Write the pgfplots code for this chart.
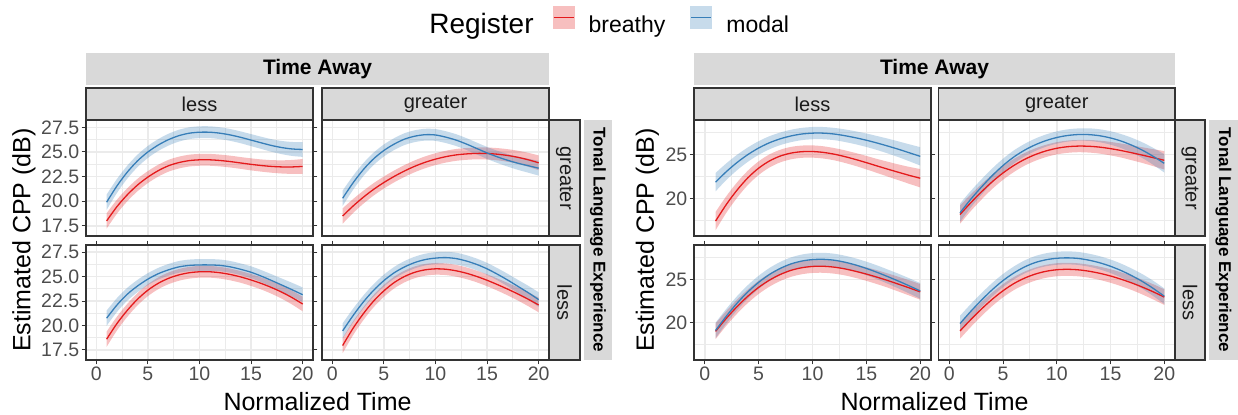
\documentclass[border=0pt]{standalone}
\usepackage{pgfplots}
\pgfplotsset{compat=1.18}
\usepackage{pgfplotstable}
\usepgfplotslibrary{fillbetween}
\usepackage{fontspec}
\setmainfont{Liberation Sans}
\definecolor{set1red}{HTML}{E41A1C}
\definecolor{set1blue}{HTML}{377EB8}
\definecolor{grey92}{HTML}{EBEBEB}
\definecolor{grey85}{HTML}{D9D9D9}
\definecolor{grey20}{HTML}{333333}
\definecolor{grey30}{HTML}{4D4D4D}
\definecolor{grey10}{HTML}{1A1A1A}

% columns: x, breathy (r), modal (b), ribbon half-width (e)
\pgfplotstableread{
x r b e
1 18.0 19.9 0.78
2 19.45 21.55 0.71
3 20.65 22.95 0.66
4 21.65 24.1 0.63
5 22.45 25.0 0.61
6 23.1 25.7 0.60
7 23.6 26.25 0.60
8 23.92 26.65 0.60
9 24.12 26.9 0.60
10 24.2 27.0 0.60
11 24.2 27.0 0.60
12 24.13 26.9 0.60
13 24.02 26.72 0.60
14 23.88 26.48 0.60
15 23.74 26.2 0.61
16 23.62 25.92 0.62
17 23.53 25.65 0.64
18 23.48 25.44 0.67
19 23.48 25.3 0.71
20 23.53 25.25 0.75
}\LTa
\pgfplotstableread{
x r b e
1 18.5 20.3 0.78
2 19.5 21.85 0.71
3 20.4 23.2 0.66
4 21.2 24.3 0.63
5 21.9 25.15 0.61
6 22.52 25.8 0.60
7 23.07 26.3 0.60
8 23.55 26.6 0.60
9 23.95 26.75 0.60
10 24.27 26.72 0.60
11 24.52 26.5 0.60
12 24.7 26.2 0.60
13 24.8 25.8 0.60
14 24.85 25.35 0.60
15 24.84 24.9 0.61
16 24.77 24.5 0.62
17 24.64 24.15 0.64
18 24.45 23.85 0.67
19 24.2 23.6 0.71
20 23.9 23.35 0.75
}\LTb
\pgfplotstableread{
x r b e
1 18.6 20.75 0.78
2 20.2 22.1 0.71
3 21.55 23.2 0.66
4 22.7 24.05 0.63
5 23.62 24.75 0.61
6 24.32 25.3 0.60
7 24.83 25.7 0.60
8 25.18 26.0 0.60
9 25.4 26.15 0.60
10 25.5 26.2 0.60
11 25.5 26.2 0.60
12 25.4 26.15 0.60
13 25.22 26.0 0.60
14 24.97 25.75 0.60
15 24.66 25.45 0.61
16 24.3 25.05 0.62
17 23.88 24.6 0.64
18 23.4 24.13 0.67
19 22.84 23.65 0.71
20 22.2 23.15 0.75
}\LBa
\pgfplotstableread{
x r b e
1 17.95 19.45 0.78
2 19.7 21.0 0.71
3 21.2 22.4 0.66
4 22.5 23.6 0.63
5 23.55 24.6 0.61
6 24.4 25.4 0.60
7 25.02 26.0 0.60
8 25.45 26.45 0.60
9 25.7 26.75 0.60
10 25.8 26.9 0.60
11 25.76 26.95 0.60
12 25.6 26.85 0.60
13 25.35 26.6 0.60
14 25.02 26.25 0.60
15 24.63 25.8 0.61
16 24.19 25.25 0.62
17 23.72 24.65 0.64
18 23.22 24.0 0.67
19 22.68 23.35 0.71
20 22.1 22.65 0.75
}\LBb
\pgfplotstableread{
x r b e
1 17.4 21.85 1.05
2 19.3 23.05 0.95
3 20.95 24.1 0.88
4 22.35 25.0 0.82
5 23.45 25.75 0.78
6 24.27 26.35 0.75
7 24.83 26.8 0.72
8 25.17 27.13 0.71
9 25.33 27.35 0.70
10 25.35 27.45 0.70
11 25.25 27.45 0.70
12 25.05 27.35 0.70
13 24.77 27.16 0.72
14 24.44 26.92 0.74
15 24.08 26.64 0.77
16 23.7 26.32 0.80
17 23.33 25.97 0.85
18 22.97 25.6 0.90
19 22.62 25.2 0.97
20 22.3 24.8 1.05
}\RTa
\pgfplotstableread{
x r b e
1 18.15 18.35 1.05
2 19.5 19.9 0.95
3 20.75 21.3 0.88
4 21.9 22.6 0.82
5 22.9 23.75 0.78
6 23.75 24.72 0.75
7 24.45 25.5 0.72
8 25.0 26.12 0.71
9 25.42 26.6 0.70
10 25.72 26.95 0.70
11 25.9 27.18 0.70
12 25.97 27.29 0.70
13 25.95 27.28 0.72
14 25.85 27.15 0.74
15 25.68 26.9 0.77
16 25.46 26.54 0.80
17 25.2 26.06 0.85
18 24.93 25.48 0.90
19 24.64 24.78 0.97
20 24.35 24.0 1.05
}\RTb
\pgfplotstableread{
x r b e
1 19.0 19.1 0.90
2 20.5 20.75 0.85
3 21.85 22.25 0.81
4 23.05 23.55 0.78
5 24.07 24.65 0.76
6 24.9 25.55 0.75
7 25.55 26.25 0.75
8 26.03 26.77 0.75
9 26.33 27.1 0.75
10 26.48 27.27 0.75
11 26.5 27.3 0.75
12 26.4 27.2 0.75
13 26.2 26.97 0.75
14 25.92 26.65 0.76
15 25.6 26.25 0.78
16 25.24 25.8 0.80
17 24.85 25.3 0.82
18 24.43 24.78 0.85
19 24.0 24.23 0.88
20 23.55 23.66 0.90
}\RBa
\pgfplotstableread{
x r b e
1 19.05 19.9 0.90
2 20.35 21.3 0.85
3 21.58 22.6 0.81
4 22.7 23.8 0.78
5 23.68 24.85 0.76
6 24.5 25.72 0.75
7 25.13 26.42 0.75
8 25.6 26.93 0.75
9 25.92 27.25 0.75
10 26.1 27.42 0.75
11 26.15 27.47 0.75
12 26.09 27.4 0.75
13 25.93 27.2 0.75
14 25.69 26.9 0.76
15 25.38 26.5 0.78
16 25.0 26.0 0.80
17 24.57 25.4 0.82
18 24.08 24.72 0.85
19 23.54 23.93 0.88
20 22.95 23.05 0.90
}\RBb

\pgfplotsset{
  panel/.style={
    scale only axis, anchor=north west,
    xmin=-1, xmax=21,
    axis line style={draw=grey20, line width=0.55pt},
    grid=both,
    major grid style={draw=grey92, line width=0.75pt},
    minor grid style={draw=grey92, line width=0.4pt},
    xtick={0,5,10,15,20}, minor xtick={2.5,7.5,12.5,17.5},
    tick align=outside, major tick length=2.2pt, minor tick length=0pt,
    tick style={draw=grey20, line width=0.5pt},
    xticklabels={}, yticklabels={},
    ticklabel style={font=\fontsize{9.75}{11}\selectfont, text=grey30},
    yticklabel style={inner xsep=1pt},
    xticklabel style={inner ysep=1.2pt},
  },
  lgrid/.style={ymin=16.47, ymax=28.24, ytick={17.5,20,22.5,25,27.5},
    minor ytick={18.75,21.25,23.75,26.25}},
  rgrid/.style={ymin=15.7, ymax=28.95, ytick={20,25},
    minor ytick={17.5,22.5,27.5}},
  noxt/.style={xtick style={draw=none}},
  noyt/.style={ytick style={draw=none}},
  xlab/.style={xticklabels={0,5,10,15,20}},
  lylab/.style={yticklabels={17.5,20.0,22.5,25.0,27.5}},
  rylab/.style={yticklabels={20,25}},
}

\newcommand{\panel}[6]{%
\begin{axis}[panel, at={#1}, width=#2, height=#3, #5]
#6
\addplot[name path=rU, draw=none, smooth, forget plot] table[x=x, y expr=\thisrow{r}+\thisrow{e}] {#4};
\addplot[name path=rL, draw=none, smooth, forget plot] table[x=x, y expr=\thisrow{r}-\thisrow{e}] {#4};
\addplot[fill=set1red, fill opacity=0.28, draw=none, forget plot] fill between[of=rU and rL];
\addplot[name path=bU, draw=none, smooth, forget plot] table[x=x, y expr=\thisrow{b}+\thisrow{e}] {#4};
\addplot[name path=bL, draw=none, smooth, forget plot] table[x=x, y expr=\thisrow{b}-\thisrow{e}] {#4};
\addplot[fill=set1blue, fill opacity=0.28, draw=none, forget plot] fill between[of=bU and bL];
\addplot[smooth, set1red, line width=0.65pt, forget plot] table[x=x, y=r] {#4};
\addplot[smooth, set1blue, line width=0.65pt, forget plot] table[x=x, y=b] {#4};
\end{axis}}

\begin{document}
\begin{tikzpicture}
% ---- strips ----
\tikzset{strip/.style={fill=grey85, draw=grey20, line width=0.55pt},
         striptxt/.style={font=\fontsize{10}{12}\selectfont, text=grey10}}
% left block
\fill[grey85] (43pt,-26.5pt) rectangle (274.5pt,-42.5pt);
\node[font=\fontsize{10.5}{12}\selectfont\bfseries] at (158.75pt,-34.5pt) {Time Away};
\filldraw[strip] (43pt,-44pt) rectangle (156.5pt,-60pt);
\node[striptxt] at (99.75pt,-52pt) {less};
\filldraw[strip] (161pt,-44pt) rectangle (274.5pt,-60pt);
\node[striptxt] at (217.75pt,-52pt) {greater};
\filldraw[strip] (274.5pt,-60pt) rectangle (290pt,-118pt);
\node[striptxt, rotate=-90] at (282.25pt,-89pt) {greater};
\filldraw[strip] (274.5pt,-122.5pt) rectangle (290pt,-180pt);
\node[striptxt, rotate=-90] at (282.25pt,-151.25pt) {less};
\fill[grey85] (292pt,-60pt) rectangle (306pt,-180pt);
\node[rotate=-90, font=\fontsize{8.5}{10}\selectfont\bfseries] at (299pt,-120pt) {Tonal Language Experience};
% right block
\fill[grey85] (347pt,-26.5pt) rectangle (587.5pt,-42.5pt);
\node[font=\fontsize{10.5}{12}\selectfont\bfseries] at (467.25pt,-34.5pt) {Time Away};
\filldraw[strip] (347pt,-44pt) rectangle (465.5pt,-60pt);
\node[striptxt] at (406.25pt,-52pt) {less};
\filldraw[strip] (469.25pt,-44pt) rectangle (587.5pt,-60pt);
\node[striptxt] at (528.4pt,-52pt) {greater};
\filldraw[strip] (587.5pt,-60pt) rectangle (602.5pt,-118pt);
\node[striptxt, rotate=-90] at (595pt,-89pt) {greater};
\filldraw[strip] (587.5pt,-122.5pt) rectangle (602.5pt,-180pt);
\node[striptxt, rotate=-90] at (595pt,-151.25pt) {less};
\fill[grey85] (604.5pt,-60pt) rectangle (619pt,-180pt);
\node[rotate=-90, font=\fontsize{8.5}{10}\selectfont\bfseries] at (611.75pt,-120pt) {Tonal Language Experience};

% ---- axis titles ----
\node[rotate=90, font=\fontsize{12.5}{14}\selectfont] at (12pt,-120pt) {Estimated CPP (dB)};
\node[rotate=90, font=\fontsize{12.5}{14}\selectfont] at (323.75pt,-120pt) {Estimated CPP (dB)};
\node[anchor=base, font=\fontsize{12.5}{14}\selectfont] at (158.75pt,-205pt) {Normalized Time};
\node[anchor=base, font=\fontsize{12.5}{14}\selectfont] at (467.25pt,-205pt) {Normalized Time};

% ---- panels ----
\panel{(43pt,-60pt)}{113.5pt}{58pt}{\LTa}{lgrid, noxt, lylab,
  legend style={at={(1.511,1.849)}, anchor=west, draw=none, fill=none,
    legend columns=-1, font=\fontsize{11.5}{13}\selectfont, inner sep=0pt,
    nodes={inner sep=0pt},
    /tikz/column 2/.style={column sep=9.5pt},
    /tikz/column 3/.style={column sep=7pt},
    /tikz/column 4/.style={column sep=12.5pt},
    /tikz/column 5/.style={column sep=7pt}}}{%
  \addlegendimage{empty legend}
  \addlegendentry{\fontsize{14}{16}\selectfont Register}
  \addlegendimage{legend image code/.code={%
    \path[fill=set1red!28, draw=none] (0pt,-1.75pt) rectangle (11pt,9.5pt);
    \path[draw=set1red, line width=0.65pt] (0.5pt,3.9pt) -- (10.5pt,3.9pt);}}
  \addlegendentry{breathy}
  \addlegendimage{legend image code/.code={%
    \path[fill=set1blue!28, draw=none] (0pt,-1.75pt) rectangle (11pt,9.5pt);
    \path[draw=set1blue, line width=0.65pt] (0.5pt,3.9pt) -- (10.5pt,3.9pt);}}
  \addlegendentry{modal}}
\panel{(161pt,-60pt)}{113.5pt}{58pt}{\LTb}{lgrid, noxt, noyt}{}
\panel{(43pt,-122.5pt)}{113.5pt}{57.5pt}{\LBa}{lgrid, xlab, lylab}{}
\panel{(161pt,-122.5pt)}{113.5pt}{57.5pt}{\LBb}{lgrid, xlab, noyt}{}

\panel{(347pt,-60pt)}{118.5pt}{58pt}{\RTa}{rgrid, noxt, rylab}{}
\panel{(469.25pt,-60pt)}{118.25pt}{58pt}{\RTb}{rgrid, noxt, noyt}{}
\panel{(347pt,-122.5pt)}{118.5pt}{57.5pt}{\RBa}{rgrid, xlab, rylab}{}
\panel{(469.25pt,-122.5pt)}{118.25pt}{57.5pt}{\RBb}{rgrid, xlab, noyt}{}

\pgfresetboundingbox
\useasboundingbox (0pt,0pt) rectangle (619pt,-207pt);
\end{tikzpicture}
\end{document}
